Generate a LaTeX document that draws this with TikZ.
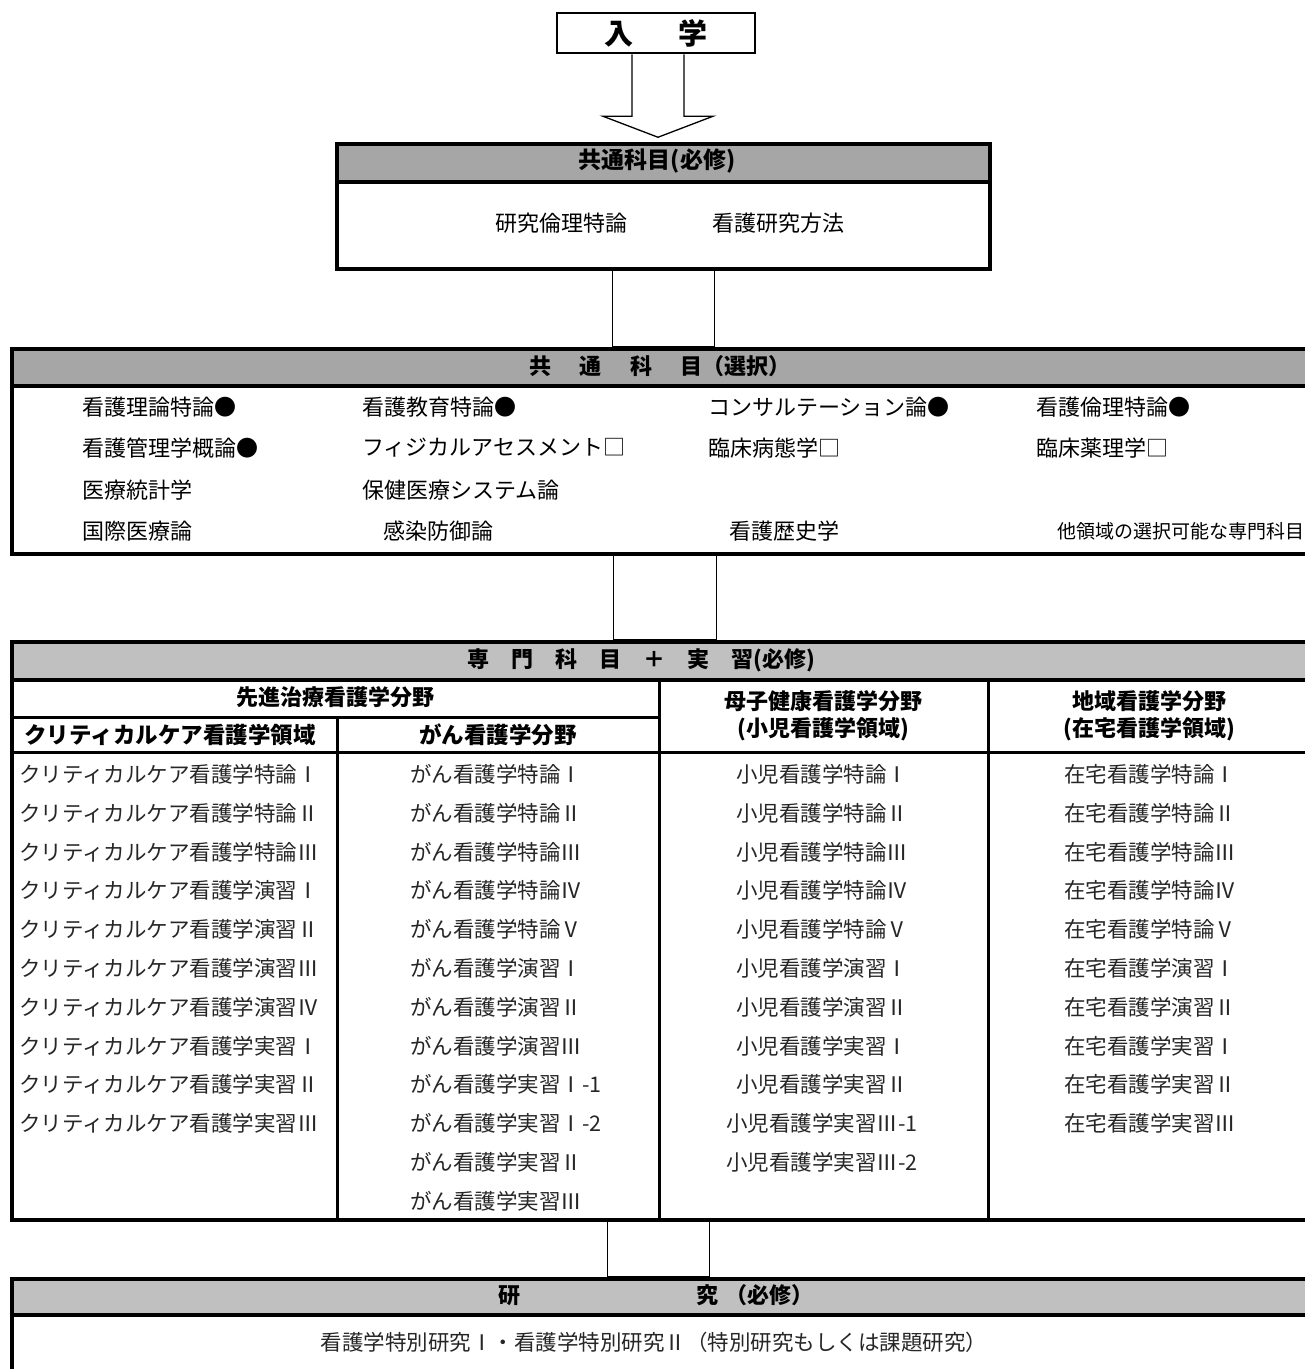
\documentclass[tikz,border=0pt]{standalone}
\usepackage{fontspec}
\usepackage{tikz}
\usepackage{xcolor}
\setmainfont{Noto Sans CJK JP}
\usetikzlibrary{
    calc,
    positioning
}
\definecolor{hdgray}{HTML}{A6A6A6}
\definecolor{hdlight}{HTML}{C0C0C0}
\tikzset{
    frm/.style={draw=black, line width=3.5pt, anchor=north west, inner sep=0pt},
    hdbar/.style={frm, fill=hdgray},
    ttl/.style={inner sep=0pt, font=\fontsize{22}{27}\selectfont\bfseries},
    itm/.style={inner sep=0pt, font=\fontsize{22}{26}\selectfont},
    sub/.style={inner sep=0pt, text=black!85, font=\fontsize{21.5}{26}\selectfont},
    pipe/.style={draw=black, line width=1.3pt}
}

\begin{document}
\begin{tikzpicture}[x=1pt, y=-1pt]
    \useasboundingbox (0, 0) rectangle (1305, 1369);
    \clip (0, 0) rectangle (1305, 1369);

    \node[draw=black, line width=2.5pt, minimum width=198pt, minimum height=40pt, inner sep=0pt,
          font=\fontsize{29}{32}\selectfont\bfseries] (nyugaku) at (656, 33) {入\hspace{1.55em}学};

    \node[hdbar, minimum width=653pt, minimum height=38pt] (hisshuhd) at (335, 142) {};
    \node[frm, minimum width=653pt, minimum height=125pt] (hisshu) at (335, 142) {};
    \node[ttl, font=\fontsize{23}{27}\selectfont\bfseries] (hisshut) at (657, 161) {共通科目(必修)};
    \node[itm] (rinri) at (561, 223) {研究倫理特論};
    \node[itm] (houhou) at (778, 223) {看護研究方法};

    \draw[pipe]
    ($(nyugaku.south)+(-24, 0)$) -- ++(0, 62) -- ++(-29, 0) -- ++(55, 21)
    -- ++(55, -21) -- ++(-29, 0) -- ++(0, -62);

    \node[hdbar, minimum width=1300pt, minimum height=37pt] (sentakuhd) at (10, 347) {};
    \node[frm, minimum width=1300pt, minimum height=205pt] (sentaku) at (10, 347) {};
    \node[ttl] (sentakut) at (660, 366) {共\hspace{1.3em}通\hspace{1.3em}科\hspace{1.3em}目（選択）};

    \node[itm, anchor=west] (sel11) at (82, 407) {看護理論特論●};
    \node[itm, anchor=west] (sel12) at (362, 407) {看護教育特論●};
    \node[itm, anchor=west] (sel13) at (708, 407) {コンサルテーション論●};
    \node[itm, anchor=west] (sel14) at (1036, 407) {看護倫理特論●};
    \node[itm, anchor=west] (sel21) at (82, 448) {看護管理学概論●};
    \node[itm, anchor=west] (sel22) at (362, 448) {フィジカルアセスメント□};
    \node[itm, anchor=west] (sel23) at (708, 448) {臨床病態学□};
    \node[itm, anchor=west] (sel24) at (1036, 448) {臨床薬理学□};
    \node[itm, anchor=west] (sel31) at (82, 490) {医療統計学};
    \node[itm, anchor=west] (sel32) at (362, 490) {保健医療システム論};
    \node[itm, anchor=west] (sel41) at (82, 531) {国際医療論};
    \node[itm, anchor=west] (sel42) at (383, 531) {感染防御論};
    \node[itm, anchor=west] (sel43) at (729, 531) {看護歴史学};
    \node[itm, anchor=west, font=\fontsize{19}{23}\selectfont] (sel44) at (1057, 531) {他領域の選択可能な専門科目};

    \node[hdbar, fill=hdlight, minimum width=1300pt, minimum height=38pt] (senmonhd) at (10, 640) {};
    \node[frm, minimum width=1300pt, minimum height=578pt] (senmon) at (10, 640) {};
    \node[ttl] (senmont) at (641, 660) {専\hspace{1em}門\hspace{1em}科\hspace{1em}目\hspace{1em}＋\hspace{1em}実\hspace{1em}習(必修)};

    \draw[line width=3pt]
    (10, 717) -- (659, 717)
    (10, 752) -- (1310, 752)
    (337, 717) -- (337, 1218)
    (659, 678) -- (659, 1218)
    (988, 678) -- (988, 1218);

    \node[ttl] (senshin) at (335, 697) {先進治療看護学分野};
    \node[ttl, font=\fontsize{22.5}{27}\selectfont\bfseries] (crit) at (170, 735) {クリティカルケア看護学領域};
    \node[ttl, font=\fontsize{22.5}{27}\selectfont\bfseries] (gan) at (498, 735) {がん看護学分野};
    \node[ttl, align=center] (boshi) at (823, 716) {母子健康看護学分野\\(小児看護学領域)};
    \node[ttl, align=center] (chiiki) at (1149, 716) {地域看護学分野\\(在宅看護学領域)};

    \node[sub, anchor=west] (cc1) at (19, 774) {クリティカルケア看護学特論Ⅰ};
    \node[sub, anchor=west] (cc2) at (19, 813) {クリティカルケア看護学特論Ⅱ};
    \node[sub, anchor=west] (cc3) at (19, 852) {クリティカルケア看護学特論Ⅲ};
    \node[sub, anchor=west] (cc4) at (19, 890) {クリティカルケア看護学演習Ⅰ};
    \node[sub, anchor=west] (cc5) at (19, 929) {クリティカルケア看護学演習Ⅱ};
    \node[sub, anchor=west] (cc6) at (19, 968) {クリティカルケア看護学演習Ⅲ};
    \node[sub, anchor=west] (cc7) at (19, 1007) {クリティカルケア看護学演習Ⅳ};
    \node[sub, anchor=west] (cc8) at (19, 1046) {クリティカルケア看護学実習Ⅰ};
    \node[sub, anchor=west] (cc9) at (19, 1084) {クリティカルケア看護学実習Ⅱ};
    \node[sub, anchor=west] (cc10) at (19, 1123) {クリティカルケア看護学実習Ⅲ};

    \node[sub, anchor=west] (gn1) at (410, 774) {がん看護学特論Ⅰ};
    \node[sub, anchor=west] (gn2) at (410, 813) {がん看護学特論Ⅱ};
    \node[sub, anchor=west] (gn3) at (410, 852) {がん看護学特論Ⅲ};
    \node[sub, anchor=west] (gn4) at (410, 890) {がん看護学特論Ⅳ};
    \node[sub, anchor=west] (gn5) at (410, 929) {がん看護学特論Ⅴ};
    \node[sub, anchor=west] (gn6) at (410, 968) {がん看護学演習Ⅰ};
    \node[sub, anchor=west] (gn7) at (410, 1007) {がん看護学演習Ⅱ};
    \node[sub, anchor=west] (gn8) at (410, 1046) {がん看護学演習Ⅲ};
    \node[sub, anchor=west] (gn9) at (410, 1084) {がん看護学実習Ⅰ-1};
    \node[sub, anchor=west] (gn10) at (410, 1123) {がん看護学実習Ⅰ-2};
    \node[sub, anchor=west] (gn11) at (410, 1162) {がん看護学実習Ⅱ};
    \node[sub, anchor=west] (gn12) at (410, 1201) {がん看護学実習Ⅲ};

    \node[sub] (sn1) at (822, 774) {小児看護学特論Ⅰ};
    \node[sub] (sn2) at (822, 813) {小児看護学特論Ⅱ};
    \node[sub] (sn3) at (822, 852) {小児看護学特論Ⅲ};
    \node[sub] (sn4) at (822, 890) {小児看護学特論Ⅳ};
    \node[sub] (sn5) at (822, 929) {小児看護学特論Ⅴ};
    \node[sub] (sn6) at (822, 968) {小児看護学演習Ⅰ};
    \node[sub] (sn7) at (822, 1007) {小児看護学演習Ⅱ};
    \node[sub] (sn8) at (822, 1046) {小児看護学実習Ⅰ};
    \node[sub] (sn9) at (822, 1084) {小児看護学実習Ⅱ};
    \node[sub] (sn10) at (822, 1123) {小児看護学実習Ⅲ-1};
    \node[sub] (sn11) at (822, 1162) {小児看護学実習Ⅲ-2};

    \node[sub, anchor=west] (zt1) at (1064, 774) {在宅看護学特論Ⅰ};
    \node[sub, anchor=west] (zt2) at (1064, 813) {在宅看護学特論Ⅱ};
    \node[sub, anchor=west] (zt3) at (1064, 852) {在宅看護学特論Ⅲ};
    \node[sub, anchor=west] (zt4) at (1064, 890) {在宅看護学特論Ⅳ};
    \node[sub, anchor=west] (zt5) at (1064, 929) {在宅看護学特論Ⅴ};
    \node[sub, anchor=west] (zt6) at (1064, 968) {在宅看護学演習Ⅰ};
    \node[sub, anchor=west] (zt7) at (1064, 1007) {在宅看護学演習Ⅱ};
    \node[sub, anchor=west] (zt8) at (1064, 1046) {在宅看護学実習Ⅰ};
    \node[sub, anchor=west] (zt9) at (1064, 1084) {在宅看護学実習Ⅱ};
    \node[sub, anchor=west] (zt10) at (1064, 1123) {在宅看護学実習Ⅲ};

    \node[hdbar, fill=hdlight, minimum width=1300pt, minimum height=36pt] (kenkyuhd) at (10, 1277) {};
    \node[frm, minimum width=1300pt, minimum height=130pt] (kenkyu) at (10, 1277) {};
    \node[ttl] (kenkyut) at (656, 1295) {研\hspace{8em}究\hspace{0.3em}（必修）};
    \node[sub] (tokubetsu) at (654, 1342) {看護学特別研究Ⅰ・看護学特別研究Ⅱ（特別研究もしくは課題研究）};

    \draw[pipe] ($(hisshu.south)+(-51, 0)$) rectangle ($(sentaku.north)+(53, 0)$);
    \draw[pipe] ($(sentaku.south)+(-48, 0)$) rectangle ($(senmon.north)+(55, 0)$);
    \draw[pipe] ($(senmon.south)+(-54, 0)$) rectangle ($(kenkyu.north)+(48, 0)$);
\end{tikzpicture}
\end{document}
